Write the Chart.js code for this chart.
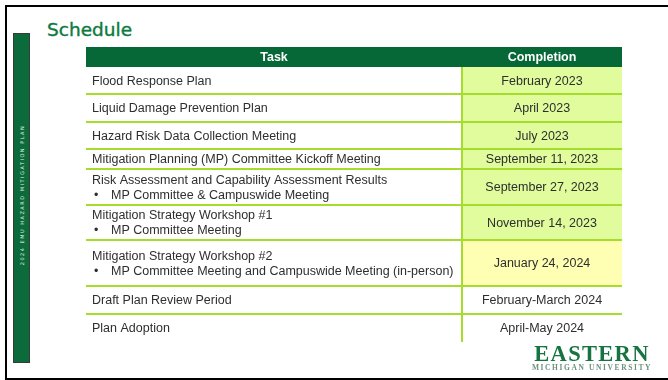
<!DOCTYPE html>
<html>
<head>
<meta charset="utf-8">
<script src="https://cdn.jsdelivr.net/npm/chart.js@4"></script>
<style>
  body { margin: 0; width: 668px; height: 380px; overflow: hidden; background: #fff; position: relative; font-family: "Liberation Sans", Arial, sans-serif; }
  .frame { position: absolute; left: 5px; top: 5px; width: 700px; height: 371px; border-top: 2px solid #000; border-left: 2px solid #000; border-bottom: 2px solid #000; }
  .side { position: absolute; left: 13px; top: 33px; width: 15px; height: 328px; background: #0b6b3a; border: 1px solid #3a3a3a; }
  .side span { position: absolute; left: 50%; top: 161px; transform: translate(-50%, -50%) rotate(-90deg); white-space: nowrap; color: #e8f0ea; font: 5px "DejaVu Sans", sans-serif; letter-spacing: 1.5px; }
  .title { position: absolute; left: 47px; top: 19px; color: #0e7a40; font: 18.5px "DejaVu Sans", Verdana, sans-serif; line-height: 22px; -webkit-text-stroke: 0.4px #0e7a40; }
  #wrap { position: absolute; left: 86px; top: 47px; width: 536px; height: 295px; }
  .logo { position: absolute; left: 527px; top: 343px; width: 130px; text-align: center; }
  .logo .big { font: bold 22.5px "Liberation Serif", "Times New Roman", serif; color: #17733f; letter-spacing: 1.3px; line-height: 21px; }
  .logo .small { font: bold 7.5px "Liberation Serif", serif; color: #6d927b; letter-spacing: 1.6px; line-height: 8px; }
</style>
</head>
<body>
<div class="frame"></div>
<div class="side"><span>2024 EMU HAZARD MITIGATION PLAN</span></div>
<div class="title">Schedule</div>
<div id="wrap"><canvas id="tabla"></canvas></div>
<div class="logo"><div class="big">EASTERN</div><div class="small">MICHIGAN UNIVERSITY</div></div>
<script>
// ── Datos de la tabla ─────────────────────────────────────────────────────────
const headers = ['Task', 'Completion'];
const tasks = [
    'Flood Response Plan',
    'Liquid Damage Prevention Plan',
    'Hazard Risk Data Collection Meeting',
    'Mitigation Planning (MP) Committee Kickoff Meeting',
    'Risk Assessment and Capability Assessment Results',
    'Mitigation Strategy Workshop #1',
    'Mitigation Strategy Workshop #2',
    'Draft Plan Review Period',
    'Plan Adoption',
];
const taskBullets = [
    '', '', '', '',
    'MP Committee & Campuswide Meeting',
    'MP Committee Meeting',
    'MP Committee Meeting and Campuswide Meeting (in-person)',
    '', '',
];
const completion = [
    'February 2023',
    'April 2023',
    'July 2023',
    'September 11, 2023',
    'September 27, 2023',
    'November 14, 2023',
    'January 24, 2024',
    'February-March 2024',
    'April-May 2024',
];
const status = ['done', 'done', 'done', 'done', 'done', 'done', 'next', 'open', 'open'];

// ── Layout (unidades de la escala) ────────────────────────────────────────────
const headerHeight = 20;
const rowHeights = [27, 28, 27, 20, 36, 35, 46, 28, 28];
const tableWidth = 536;
const colSplit = 376;
const fills = { done: '#e0fc9c', next: '#ffffb4', open: '#ffffff' };

const totalHeight = headerHeight + rowHeights.reduce((a, b) => a + b, 0);

const tablePlugin = {
    id: 'tabla',
    afterDraw(chart) {
        const c = chart.ctx;
        const sx = chart.scales.x, sy = chart.scales.y;
        const X = v => sx.getPixelForValue(v);
        const Y = v => sy.getPixelForValue(v);
        c.save();

        // encabezado
        c.fillStyle = '#066837';
        c.fillRect(X(0), Y(0), X(tableWidth) - X(0), Y(headerHeight) - Y(0));
        c.fillStyle = '#ffffff';
        c.font = 'bold 12.5px "Liberation Sans", Arial, sans-serif';
        c.textAlign = 'center';
        c.textBaseline = 'middle';
        const hy = Y(headerHeight / 2) + 1;
        c.fillText(headers[0], (X(0) + X(colSplit)) / 2, hy);
        c.fillText(headers[1], (X(colSplit) + X(tableWidth)) / 2, hy);

        // filas
        let top = headerHeight;
        c.font = '12.5px "Liberation Sans", Arial, sans-serif';
        rowHeights.forEach((h, i) => {
            const y0 = Y(top), y1 = Y(top + h);
            c.fillStyle = fills[status[i]];
            c.fillRect(X(colSplit), y0, X(tableWidth) - X(colSplit), y1 - y0);

            const mid = (y0 + y1) / 2 + 1;
            c.fillStyle = '#2e2e2e';
            c.textAlign = 'left';
            if (taskBullets[i]) {
                c.fillText(tasks[i], X(6), mid - 7.5);
                c.fillText('\u2022', X(8), mid + 7.5);
                c.fillText(taskBullets[i], X(25), mid + 7.5);
            } else {
                c.fillText(tasks[i], X(6), mid);
            }
            c.textAlign = 'center';
            c.fillText(completion[i], (X(colSplit) + X(tableWidth)) / 2, mid);
            top += h;
        });

        // líneas
        c.strokeStyle = '#a6dc2c';
        c.lineWidth = 2;
        top = headerHeight;
        rowHeights.slice(0, -1).forEach(h => {
            top += h;
            c.beginPath();
            c.moveTo(X(0), Y(top));
            c.lineTo(X(tableWidth), Y(top));
            c.stroke();
        });
        c.beginPath();
        c.moveTo(X(colSplit), Y(headerHeight));
        c.lineTo(X(colSplit), Y(totalHeight));
        c.stroke();
        c.restore();
    }
};

new Chart(document.getElementById('tabla'), {
    type: 'scatter',
    data: { datasets: [] },
    options: {
        responsive: true,
        maintainAspectRatio: false,
        animation: false,
        layout: { padding: 0 },
        plugins: { legend: { display: false }, tooltip: { enabled: false } },
        scales: {
            x: { type: 'linear', min: 0, max: tableWidth, offset: false, display: false },
            y: { type: 'linear', min: 0, max: totalHeight, reverse: true, offset: false, display: false }
        }
    },
    plugins: [tablePlugin]
});
</script>
</body>
</html>
